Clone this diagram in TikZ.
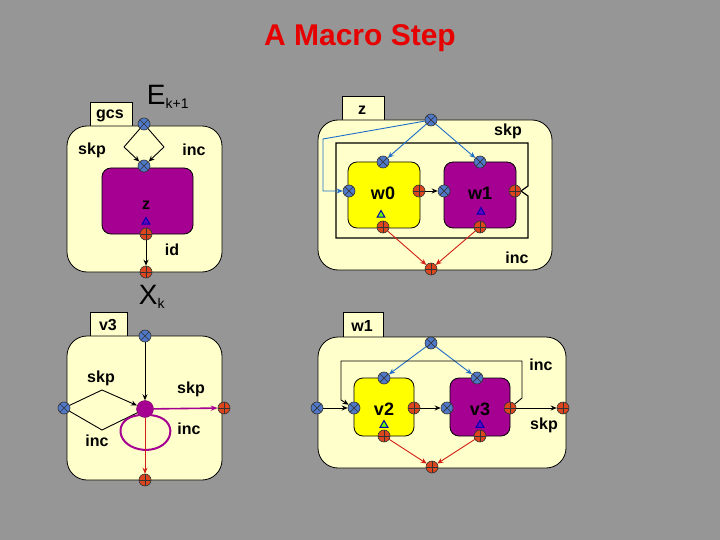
\documentclass[tikz,border=0pt]{standalone}
\usepackage{fontspec}
\setmainfont{Liberation Sans}
\usetikzlibrary{arrows.meta,shapes.geometric}
\definecolor{bg}{RGB}{150,150,150}
\definecolor{cream}{RGB}{255,255,204}
\definecolor{mag}{RGB}{165,0,145}
\definecolor{yel}{RGB}{255,255,0}
\definecolor{bport}{RGB}{80,120,200}
\definecolor{rport}{RGB}{220,70,30}
\definecolor{bline}{RGB}{30,110,200}
\definecolor{rline}{RGB}{210,30,20}
\definecolor{ttl}{RGB}{230,0,0}
\tikzset{
  x=1pt,y=-1pt,
  panel/.style={draw=black,line width=0.8,fill=cream,rounded corners=20},
  tab/.style={draw=black,line width=0.8,fill=cream},
  box/.style={draw=black,line width=0.8,rounded corners=9},
  bp/.style={circle,draw=black!80,fill=bport,inner sep=0,minimum size=12,line width=0.6,
    path picture={\draw[line width=0.7]([shift={(-4,-4)}]path picture bounding box.center)--([shift={(4,4)}]path picture bounding box.center)
      ([shift={(-4,4)}]path picture bounding box.center)--([shift={(4,-4)}]path picture bounding box.center);}},
  rp/.style={circle,draw=black!80,fill=rport,inner sep=0,minimum size=12,line width=0.6,
    path picture={\draw[line width=0.7]([shift={(-6,0)}]path picture bounding box.center)--([shift={(6,0)}]path picture bounding box.center)
      ([shift={(0,-6)}]path picture bounding box.center)--([shift={(0,6)}]path picture bounding box.center);}},
  lbl/.style={font=\bfseries\fontsize{16}{18}\selectfont,inner sep=0},
  con/.style={line width=0.9,-{Stealth[length=6,width=5]}},
  tri/.style={regular polygon,regular polygon sides=3,inner sep=0,minimum size=9,draw=blue!70!black,line width=1},
}
\begin{document}
\begin{tikzpicture}
\fill[bg] (0,0) rectangle (720,540);
\useasboundingbox (0,0) rectangle (720,540);
\node[font=\bfseries\fontsize{30}{32}\selectfont,text=ttl] (title) at (360,38) {A Macro Step};

% ---- panel 1 (gcs)
\draw[tab] (90,102) rectangle (132,127);
\node[lbl] (gcsl) at (110,116) {gcs};
\draw[panel] (67,126) rectangle (222,272);
\node[font=\fontsize{28}{30}\selectfont,inner sep=0] (E) at (168,97) {E\textsubscript{\fontsize{14}{14}\selectfont k+1}};
\draw[box,fill=mag] (102,168) rectangle (193,234);
\node[lbl] (z1) at (146,205) {z};
\node[tri,fill=mag!60!blue] (t1) at (146,222) {};
\node[bp] (a1) at (144,124) {};
\node[bp] (a2) at (144,166) {};
\node[rp] (a3) at (146,234) {};
\node[rp] (a4) at (146,272) {};
\coordinate (dl) at (124,147);
\coordinate (dr) at (164,147);
\draw[line width=0.9] (a1)--(dl);
\draw[line width=0.9] (a1)--(dr);
\draw[con] (dl)--(a2);
\draw[con] (dr)--(a2);
\draw[con] (a3)--(a4);
\node[lbl] (s1) at (92,150) {skp};
\node[lbl] (i1) at (194,150) {inc};
\node[lbl] (id) at (172,250) {id};

% ---- panel 2 (z)
\draw[tab] (342,96) rectangle (384,121);
\node[lbl] (zl) at (362,110) {z};
\draw[panel] (318,120) rectangle (552,270);
\draw[line width=1.2] (336,143) -- (528,143) -- (528,186) -- (521,191) -- (528,196) -- (528,238) -- (336,238) -- cycle;
\draw[box,fill=yel] (348,162) rectangle (420,228);
\draw[box,fill=mag] (444,162) rectangle (516,228);
\node[lbl,font=\bfseries\fontsize{18}{20}\selectfont] (w0) at (383,193) {w0};
\node[lbl,font=\bfseries\fontsize{18}{20}\selectfont] (w1) at (480,193) {w1};
\node[tri,fill=green!60!yellow] (t2) at (381,215) {};
\node[tri,fill=mag!60!blue] (t3) at (481,212) {};
\node[bp] (b0) at (431,120) {};
\node[bp] (b1) at (383,162) {};
\node[bp] (b2) at (349,191) {};
\node[rp] (b3) at (419,191) {};
\node[rp] (b4) at (383,227) {};
\node[bp] (b5) at (444,191) {};
\node[bp] (b6) at (480,162) {};
\node[rp] (b7) at (515,191) {};
\node[rp] (b8) at (480,227) {};
\node[rp] (b9) at (431,269) {};
\draw[con,bline] (b0)--(b1);
\draw[con,bline] (b0)--(b6);
\draw[con,bline] (b0)--(323,139)--(323,191)--(b2);
\draw[con] (b3)--(b5);
\draw[con,rline] (b4)--(b9);
\draw[con,rline] (b8)--(b9);
\node[lbl] (s2) at (508,131) {skp};
\node[lbl] (i2) at (517,258) {inc};

% ---- panel 3 (v3)
\draw[tab] (90,312) rectangle (127,337);
\node[lbl] (v3l) at (108,325) {v3};
\draw[panel] (67,336) rectangle (222,480);
\node[font=\fontsize{28}{30}\selectfont,inner sep=0] (X) at (152,297) {X\textsubscript{\fontsize{14}{14}\selectfont k}};
\node[bp] (c1) at (145,336) {};
\node[bp] (c2) at (64,408) {};
\node[circle,fill=mag,draw=mag!70!black,minimum size=17,inner sep=0] (c0) at (145,409) {};
\node[rp] (c3) at (224,408) {};
\node[rp] (c4) at (145,480) {};
\draw[con] (c1)--(c0);
\draw[line width=0.9] (c2)--(102,390);
\draw[con] (102,390)--(c0);
\draw[line width=0.9] (c2)--(102,430)--(c0);
\draw[line width=2,mag] (c0.south west) .. controls (112,418) and (115,448) .. (145,450) .. controls (175,450) and (180,418) .. (c0.south east);
\draw[line width=1.6,mag,-{Stealth[length=7]}] (c0)--(c3);
\draw[con,rline] (c0)--(c4);
\node[lbl] (s3) at (101,378) {skp};
\node[lbl] (s4) at (191,389) {skp};
\node[lbl] (i3) at (97,441) {inc};
\node[lbl] (i4) at (189,429) {inc};

% ---- panel 4 (w1)
\draw[tab] (343,312) rectangle (383,337);
\node[lbl] (w1l) at (362,326) {w1};
\draw[panel] (318,337) rectangle (566,468);
\draw[box,fill=yel] (354,378) rectangle (414,436);
\draw[box,fill=mag] (450,378) rectangle (510,436);
\node[lbl,font=\bfseries\fontsize{18}{20}\selectfont] (v2) at (384,409) {v2};
\node[lbl,font=\bfseries\fontsize{18}{20}\selectfont] (v3) at (480,409) {v3};
\node[tri,fill=green!60!yellow] (t4) at (384,425) {};
\node[tri,fill=mag!60!blue] (t5) at (480,425) {};
\node[bp] (d0) at (431,343) {};
\node[bp] (d1) at (384,378) {};
\node[bp] (d2) at (354,408) {};
\node[rp] (d3) at (414,408) {};
\node[rp] (d4) at (384,436) {};
\node[bp] (d5) at (447,408) {};
\node[bp] (d6) at (477,378) {};
\node[rp] (d7) at (510,408) {};
\node[rp] (d8) at (480,436) {};
\node[rp] (d9) at (432,467) {};
\node[bp] (d10) at (317,408) {};
\node[rp] (d11) at (563,408) {};
\draw[con,bline] (d0)--(d1);
\draw[con,bline] (d0)--(d6);
\draw[con] (d10)--(d2);
\draw[con] (d3)--(d5);
\draw[con] (d7)--(d11);
\draw[con] (d7)--(522,398)--(522,361)--(341,361)--(341,400)--(d2);
\draw[con,rline] (d4)--(d9);
\draw[con,rline] (d8)--(d9);
\node[lbl] (i5) at (541,365) {inc};
\node[lbl] (s5) at (544,425) {skp};
\end{tikzpicture}
\end{document}
